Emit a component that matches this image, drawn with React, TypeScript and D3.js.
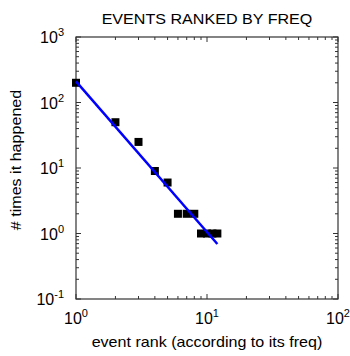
import React from "react";
import * as d3 from "d3";

// Event counts, sorted by frequency (rank 1 = most frequent)
const ranks = [1, 2, 3, 4, 5, 6, 7, 8, 9, 10, 11, 12];
const counts = [200, 50, 25, 9, 6, 2, 2, 2, 1, 1, 1, 1];

// Power-law fit: count = fitScale * rank ^ fitExponent
const fitScale = 210;
const fitExponent = -2.3;

const xDecades = [0, 1, 2];
const yDecades = [-1, 0, 1, 2, 3];

const titleText = "EVENTS RANKED BY FREQ";
const xLabelText = "event rank (according to its freq)";
const yLabelText = "# times it happened";

const W = 350;
const H = 356;
const M = { left: 76, right: 338, top: 37, bottom: 299 };
const FONT = "'Liberation Sans', Arial, Helvetica, sans-serif";
const STRETCH = 1.15;

export default function App() {
  const x = d3.scaleLog().domain([1, 100]).range([M.left, M.right]);
  const y = d3.scaleLog().domain([0.1, 1000]).range([M.bottom, M.top]);

  const minorX: number[] = [];
  for (let d = 0; d < 2; d++) for (let k = 2; k <= 9; k++) minorX.push(k * Math.pow(10, d));
  const minorY: number[] = [];
  for (let d = -1; d < 3; d++) for (let k = 2; k <= 9; k++) minorY.push(k * Math.pow(10, d));

  const fitPts = ranks.map((r) => [r, fitScale * Math.pow(r, fitExponent)] as [number, number]);
  const fitLine = d3
    .line<[number, number]>()
    .x((d) => x(d[0]))
    .y((d) => y(d[1]));
  const fitEnds: [number, number][] = [fitPts[0], fitPts[fitPts.length - 1]];

  const sq = 8;
  const major = 5;
  const minor = 3;
  const axisColor = "#333";
  const cx = (M.left + M.right) / 2;
  const cy = (M.top + M.bottom) / 2;

  return (
    <svg width={W} height={H} style={{ position: "absolute", left: 0, top: 0, background: "#fff" }}>
      <rect x={0} y={0} width={W} height={H} fill="#fff" />
      <g transform={`translate(${cx},24) scale(${STRETCH},1)`}>
        <text x={0} y={0} textAnchor="middle" fontFamily={FONT} fontSize={14} fill="#000">
          {titleText}
        </text>
      </g>

      {/* ticks on all four sides, pointing inward */}
      <g stroke={axisColor} strokeWidth={1}>
        {xDecades.map((d) => {
          const px = x(Math.pow(10, d));
          return (
            <g key={"xM" + d}>
              <line x1={px} x2={px} y1={M.bottom} y2={M.bottom - major} />
              <line x1={px} x2={px} y1={M.top} y2={M.top + major} />
            </g>
          );
        })}
        {minorX.map((v) => {
          const px = x(v);
          return (
            <g key={"xm" + v}>
              <line x1={px} x2={px} y1={M.bottom} y2={M.bottom - minor} />
              <line x1={px} x2={px} y1={M.top} y2={M.top + minor} />
            </g>
          );
        })}
        {yDecades.map((d) => {
          const py = y(Math.pow(10, d));
          return (
            <g key={"yM" + d}>
              <line x1={M.left} x2={M.left + major} y1={py} y2={py} />
              <line x1={M.right} x2={M.right - major} y1={py} y2={py} />
            </g>
          );
        })}
        {minorY.map((v) => {
          const py = y(v);
          return (
            <g key={"ym" + v}>
              <line x1={M.left} x2={M.left + minor} y1={py} y2={py} />
              <line x1={M.right} x2={M.right - minor} y1={py} y2={py} />
            </g>
          );
        })}
      </g>
      <rect
        x={M.left}
        y={M.top}
        width={M.right - M.left}
        height={M.bottom - M.top}
        fill="none"
        stroke={axisColor}
        strokeWidth={1.2}
      />

      {/* data markers */}
      {ranks.map((r, i) => (
        <rect
          key={"p" + r}
          x={x(r) - sq / 2}
          y={y(counts[i]) - sq / 2}
          width={sq}
          height={sq}
          fill="#000"
        />
      ))}

      {/* fitted power law */}
      <path d={fitLine(fitEnds) || ""} fill="none" stroke="#0000ff" strokeWidth={2.5} />

      {/* tick labels */}
      {xDecades.map((d) => (
        <text key={"xl" + d} x={x(Math.pow(10, d))} y={324} textAnchor="middle" fontFamily={FONT} fontSize={16} fill="#000">
          10
          <tspan dy={-7} fontSize={11}>
            {d}
          </tspan>
        </text>
      ))}
      {yDecades.map((d) => (
        <text key={"yl" + d} x={64} y={y(Math.pow(10, d)) + 6} textAnchor="end" fontFamily={FONT} fontSize={16} fill="#000">
          10
          <tspan dy={-7} fontSize={11}>
            {d}
          </tspan>
        </text>
      ))}

      <g transform={`translate(${cx},347) scale(${STRETCH},1)`}>
        <text x={0} y={0} textAnchor="middle" fontFamily={FONT} fontSize={14} fill="#000">
          {xLabelText}
        </text>
      </g>
      <g transform={`translate(21,${cy - 8}) rotate(-90) scale(${STRETCH},1)`}>
        <text x={0} y={0} textAnchor="middle" fontFamily={FONT} fontSize={14} fill="#000">
          {yLabelText}
        </text>
      </g>
    </svg>
  );
}
